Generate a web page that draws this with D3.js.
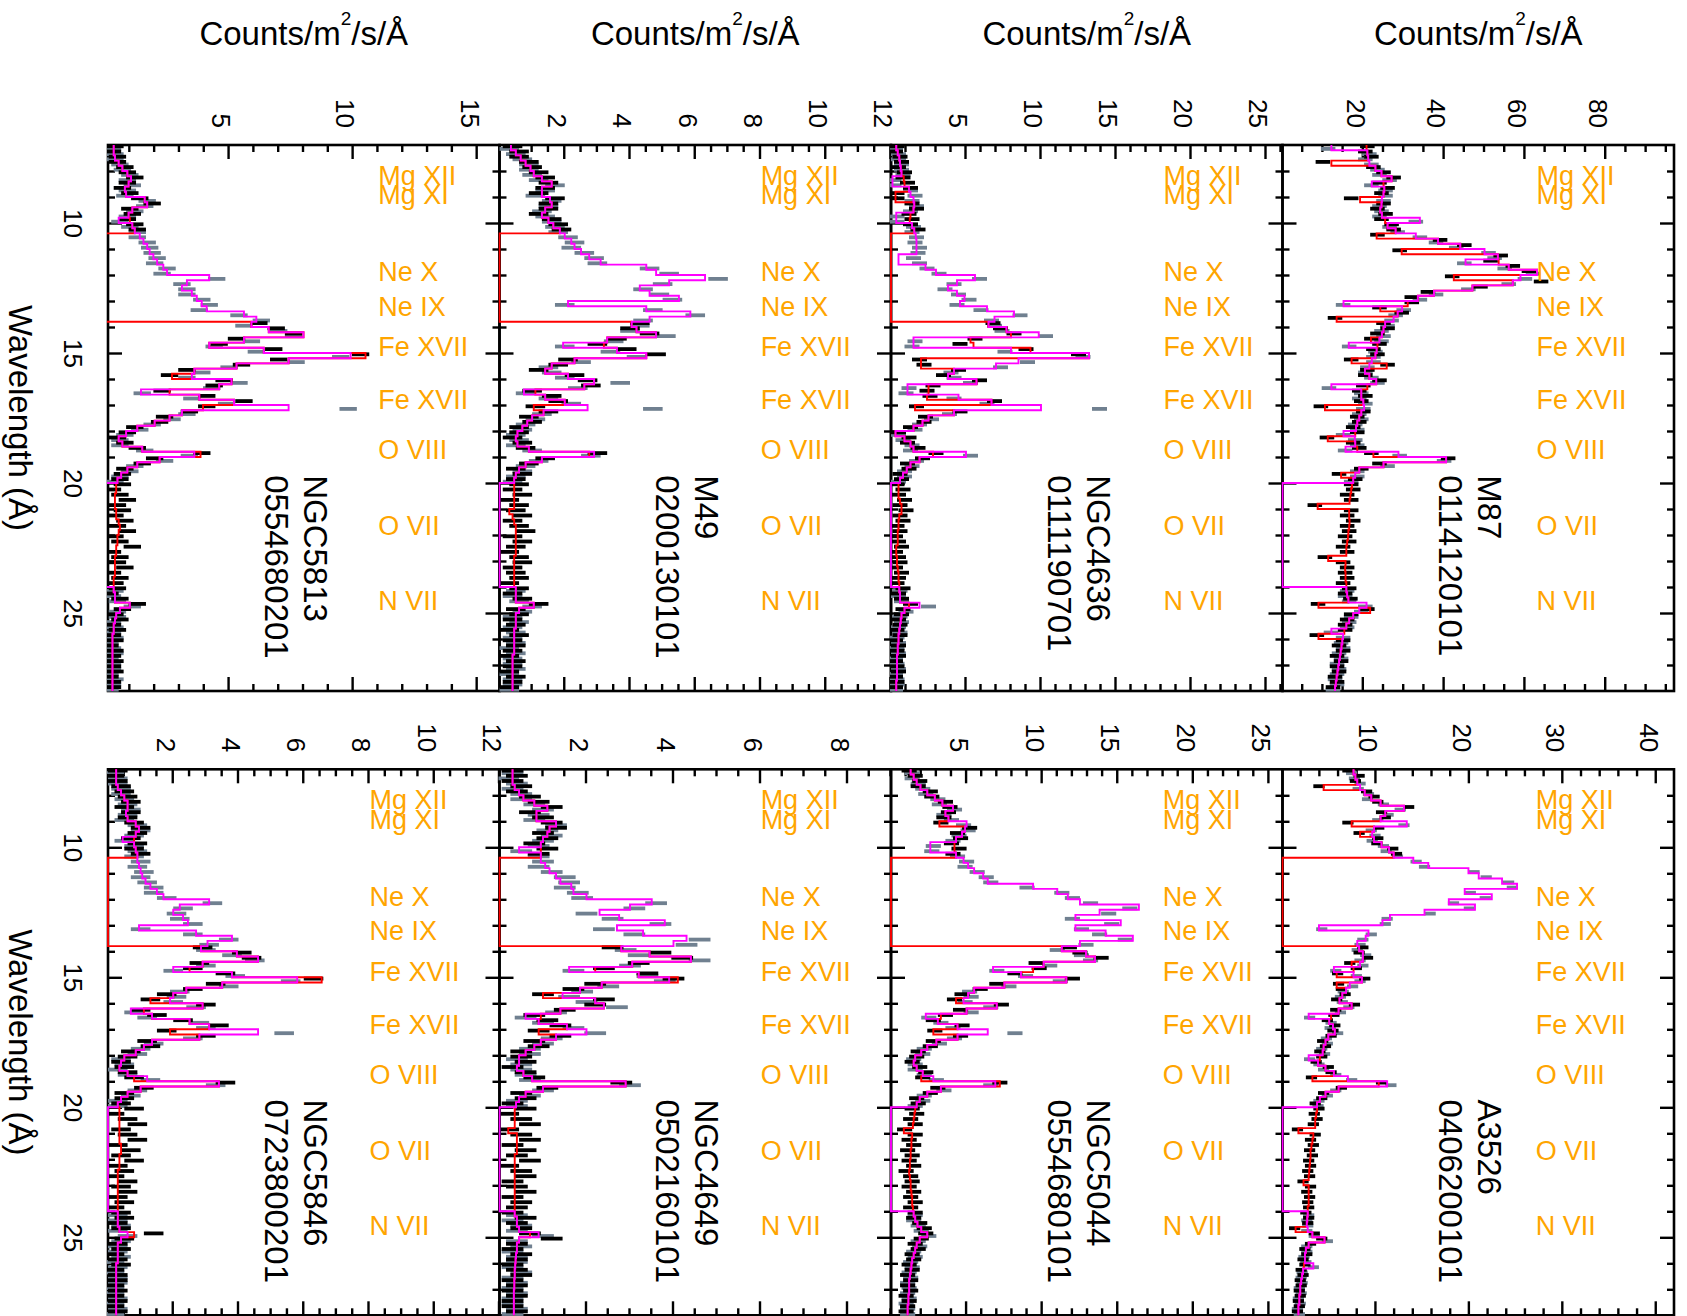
<!DOCTYPE html>
<html>
<head>
<meta charset="utf-8">
<script src="https://cdn.jsdelivr.net/npm/d3@7"></script>
<style>
  body { margin: 0; background: #fff; }
</style>
</head>
<body>
<div id="chart"></div>
<script>
// bin centres (Angstrom), 0.2 A bins from 7 to 28
const wave = [
  7.1, 7.3, 7.5, 7.7, 7.9, 8.1, 8.3, 8.5, 8.7, 8.9,
  9.1, 9.3, 9.5, 9.7, 9.9, 10.1, 10.3, 10.5, 10.7, 10.9,
  11.1, 11.3, 11.5, 11.7, 11.9, 12.1, 12.3, 12.5, 12.7, 12.9,
  13.1, 13.3, 13.5, 13.7, 13.9, 14.1, 14.3, 14.5, 14.7, 14.9,
  15.1, 15.3, 15.5, 15.7, 15.9, 16.1, 16.3, 16.5, 16.7, 16.9,
  17.1, 17.3, 17.5, 17.7, 17.9, 18.1, 18.3, 18.5, 18.7, 18.9,
  19.1, 19.3, 19.5, 19.7, 19.9, 20.1, 20.3, 20.5, 20.7, 20.9,
  21.1, 21.3, 21.5, 21.7, 21.9, 22.1, 22.3, 22.5, 22.7, 22.9,
  23.1, 23.3, 23.5, 23.7, 23.9, 24.1, 24.3, 24.5, 24.7, 24.9,
  25.1, 25.3, 25.5, 25.7, 25.9, 26.1, 26.3, 26.5, 26.7, 26.9,
  27.1, 27.3, 27.5, 27.7, 27.9
];

const lineNames = ["Mg XII", "Mg XI", "Ne X", "Ne IX", "Fe XVII", "Fe XVII", "O VIII", "O VII", "N VII"];
const lineWaves = [8.42, 9.17, 12.13, 13.45, 15.01, 17.05, 18.97, 21.9, 24.78];

const waveMajor = [10, 15, 20, 25];
const waveMinor = [8, 9, 11, 12, 13, 14, 16, 17, 18, 19, 21, 22, 23, 24, 26, 27];

// chip gaps of the two spectrometers
const rgs1Gap = [10.4, 13.8];
const rgs2Gap = [20.0, 24.0];

// ---------- NGC5813 ----------
const ngc5813Model = [
  0.35, 0.35, 0.4, 0.55, 0.7, 0.9, 1.05, 0.95, 0.8, 0.85,
  1.6, 1.7, 1.1, 0.95, 1.0, 1.1, 1.2, 1.4, 1.55, 1.7,
  1.8, 1.95, 2.1, 2.35, 2.5, 4.2, 3.3, 3.1, 3.5, 3.7,
  3.9, 4.1, 5.6, 6.1, 5.9, 6.6, 8.0, 5.6, 4.2, 6.4,
  9.9, 7.4, 5.3, 3.6, 3.5, 5.1, 4.6, 2.6, 3.8, 5.2,
  7.4, 3.1, 2.6, 2.0, 1.3, 0.85, 0.55, 0.7, 1.5, 3.6,
  2.2, 1.3, 0.9, 0.65, 0.5, 0.45, 0.45, 0.4, 0.4, 0.4,
  0.45, 0.45, 0.55, 0.6, 0.55, 0.5, 0.5, 0.45, 0.45, 0.4,
  0.4, 0.4, 0.4, 0.35, 0.35, 0.35, 0.4, 0.4, 1.0, 0.6,
  0.45, 0.4, 0.35, 0.35, 0.3, 0.3, 0.3, 0.3, 0.3, 0.3,
  0.3, 0.3, 0.3, 0.3, 0.3
];
const ngc5813Dips1 = [[15.1, 10.5], [15.9, 2.7], [17.1, 3.95], [18.9, 3.85]];
const ngc5813Dips2 = [[9.9, 0.55], [16.5, 1.45]];
const ngc5813Rgs1 = [
  0.4, 0.3, 0.5, 0.5, 0.8, 0.9, 1.2, 0.9, 0.7, 1.0,
  1.4, 1.9, 1.0, 1.1, 0.9, 1.2, 1.3, null, null, null,
  null, null, null, null, null, null, null, null, null, null,
  null, null, null, null, 6.2, 6.9, 7.6, 5.3, 4.6, 6.8,
  10.3, 7.0, 5.5, 3.3, 2.6, 4.8, 4.4, 2.3, 4.1, 5.6,
  4.1, 3.4, 2.4, 2.2, 1.2, 0.9, 0.5, 0.8, 1.3, 3.9,
  2.0, 1.5, 0.8, 0.7, 0.6, 0.7, 0.3, 0.6, 0.9, 0.5,
  0.7, 0.4, 0.8, 0.5, 0.9, 0.4, 0.6, 1.1, 0.3, 0.6,
  0.5, 0.8, 0.3, 0.6, 0.4, 0.5, 0.2, 0.6, 1.3, 0.7,
  0.4, 0.6, 0.3, 0.5, 0.3, 0.4, 0.2, 0.4, 0.3, 0.4,
  0.3, 0.4, 0.2, 0.3, 0.3
];
const ngc5813Rgs2 = [
  0.3, 0.4, 0.4, 0.6, 0.7, 1.0, 0.9, 1.1, 0.9, 0.8,
  1.7, 1.6, 1.2, 0.9, 0.6, 1.0, 1.3, 1.3, 1.7, 1.8,
  1.9, 2.1, 2.0, 2.5, 2.3, 4.5, 3.1, 3.3, 3.3, 3.9,
  4.2, 3.8, 5.4, 6.3, 5.6, 7.0, 7.6, 5.9, 4.4, 6.1,
  9.5, 7.7, 5.0, 3.9, 3.3, 5.4, 4.3, 1.5, 3.5, 4.9,
  9.8, 3.3, 2.7, 1.9, 1.4, 0.8, 0.6, 0.6, 1.6, 3.4,
  2.4, 1.2, 1.0, 0.6, 0.4, null, null, null, null, null,
  null, null, null, null, null, null, null, null, null, null,
  null, null, null, null, null, 0.4, 0.3, 0.5, 1.1, 0.5,
  0.5, 0.3, 0.4, 0.3, 0.4, 0.2, 0.3, 0.4, 0.2, 0.3,
  0.3, 0.2, 0.4, 0.3, 0.2
];

// ---------- M49 ----------
const m49Model = [
  0.35, 0.5, 0.65, 0.8, 0.95, 1.05, 1.3, 1.6, 1.3, 1.3,
  1.55, 1.6, 1.4, 1.3, 1.5, 1.65, 1.85, 2.0, 2.2, 2.3,
  2.5, 2.75, 3.1, 4.5, 4.8, 6.3, 5.2, 4.3, 4.6, 5.5,
  2.1, 4.5, 5.85, 4.6, 4.05, 4.2, 4.8, 3.3, 3.2, 3.6,
  4.5, 2.3, 1.6, 1.4, 2.1, 2.9, 2.6, 1.1, 1.4, 2.0,
  2.7, 1.35, 1.0, 0.85, 0.7, 0.55, 0.5, 0.55, 0.9, 2.9,
  1.3, 0.8, 0.6, 0.5, 0.45, 0.45, 0.45, 0.45, 0.45, 0.45,
  0.3, 0.4, 0.45, 0.5, 0.5, 0.5, 0.5, 0.5, 0.5, 0.45,
  0.45, 0.45, 0.45, 0.45, 0.45, 0.5, 0.5, 0.5, 1.05, 0.6,
  0.5, 0.5, 0.5, 0.45, 0.45, 0.45, 0.45, 0.45, 0.4, 0.4,
  0.4, 0.4, 0.4, 0.4, 0.4
];
const m49Dips1 = [[17.1, 1.05], [18.9, 2.75]];
const m49Dips2 = [[14.7, 1.95], [16.5, 0.75]];
const m49Rgs1 = [
  0.4, 0.6, 0.6, 0.9, 1.0, 1.2, 1.4, 1.5, 1.4, 1.2,
  1.7, 1.5, 1.5, 1.2, 1.6, 1.8, 1.9, null, null, null,
  null, null, null, null, null, null, null, null, null, null,
  null, null, null, null, 4.3, 4.0, 4.6, 3.6, 3.0, 3.9,
  4.8, 2.1, 1.8, 1.2, 2.3, 2.7, 2.8, 1.0, 1.6, 1.8,
  1.1, 1.5, 0.9, 1.0, 0.6, 0.6, 0.4, 0.7, 0.8, 3.0,
  1.4, 0.9, 0.5, 0.7, 0.5, 0.6, 0.4, 0.7, 0.3, 0.6,
  0.5, 0.7, 0.4, 0.6, 0.8, 0.4, 0.7, 0.5, 0.3, 0.6,
  0.7, 0.4, 0.5, 0.6, 0.3, 0.6, 0.4, 0.7, 1.2, 0.5,
  0.6, 0.4, 0.5, 0.3, 0.6, 0.4, 0.5, 0.4, 0.3, 0.5,
  0.4, 0.3, 0.5, 0.4, 0.3
];
const m49Rgs2 = [
  0.3, 0.5, 0.7, 0.9, 0.9, 1.0, 1.2, 1.7, 1.4, 1.1,
  1.6, 1.5, 1.3, 1.4, 1.6, 1.7, 1.8, 2.1, 2.3, 2.2,
  2.6, 2.9, 3.0, 4.6, 5.2, 6.7, 5.0, 4.4, 4.9, 5.3,
  2.0, 4.7, 6.0, 4.4, 4.3, 4.0, 5.1, 3.5, 2.0, 3.4,
  4.2, 2.5, 1.5, 1.6, 2.0, 3.7, 2.4, 0.8, 1.5, 2.2,
  4.7, 1.3, 1.1, 0.8, 0.7, 0.5, 0.6, 0.5, 1.0, 2.8,
  1.2, 0.8, 0.7, 0.5, 0.4, null, null, null, null, null,
  null, null, null, null, null, null, null, null, null, null,
  null, null, null, null, null, 0.5, 0.4, 0.6, 1.0, 0.7,
  0.4, 0.6, 0.4, 0.5, 0.4, 0.5, 0.3, 0.5, 0.4, 0.4,
  0.5, 0.3, 0.4, 0.4, 0.3
];

// ---------- NGC4636 ----------
const ngc4636Model = [
  0.35, 0.45, 0.55, 0.6, 0.65, 0.7, 0.85, 0.9, 1.2, 1.3,
  1.5, 1.55, 1.5, 1.3, 1.25, 1.4, 1.55, 1.65, 1.7, 1.7,
  1.7, 0.5, 0.5, 2.3, 3.0, 5.6, 4.4, 3.8, 4.4, 4.9,
  4.6, 6.4, 8.2, 6.9, 6.5, 7.7, 9.85, 5.3, 5.5, 8.0,
  13.2, 8.5, 7.0, 4.2, 3.8, 5.7, 2.5, 2.5, 4.5, 6.7,
  10.0, 4.2, 2.5, 2.1, 1.5, 0.3, 0.9, 1.3, 1.5, 5.0,
  1.9, 1.3, 1.05, 0.8, 0.6, 0.5, 0.5, 0.5, 0.6, 0.7,
  0.7, 0.55, 0.5, 0.5, 0.45, 0.45, 0.45, 0.35, 0.35, 0.4,
  0.4, 0.45, 0.5, 0.5, 0.55, 0.55, 0.6, 0.6, 1.9, 0.9,
  0.7, 0.65, 0.6, 0.55, 0.5, 0.5, 0.45, 0.45, 0.4, 0.4,
  0.4, 0.4, 0.4, 0.35, 0.35
];
const ngc4636Dips1 = [[8.9, 0.3], [9.1, 0.3], [14.3, 8.0], [14.9, 9.3], [15.3, 2.0], [15.5, 2.0],
  [16.7, 2.4], [17.1, 1.6], [18.9, 2.8], [24.7, 1.2]];
const ngc4636Dips2 = [[8.3, 0.1], [8.5, 0.1], [9.7, 0.35], [9.9, 0.35], [14.5, 1.5], [14.7, 1.5],
  [16.3, 1.1], [16.5, 1.1]];
const ngc4636Rgs1 = [
  0.4, 0.3, 0.6, 0.7, 0.5, 0.9, 0.8, 1.1, 1.3, 0.4,
  0.4, 1.4, 1.7, 1.2, 1.4, 1.3, 1.8, null, null, null,
  null, null, null, null, null, null, null, null, null, null,
  null, null, null, null, 6.8, 7.3, 8.2, 5.6, 4.6, 9.0,
  12.5, 1.9, 2.2, 4.5, 3.5, 5.9, 2.8, 2.4, 2.6, 6.9,
  1.7, 4.6, 2.3, 2.2, 1.3, 0.5, 1.2, 1.1, 1.8, 3.0,
  2.1, 1.1, 1.2, 0.6, 0.7, 0.4, 0.8, 0.5, 0.9, 0.6,
  1.0, 0.6, 0.8, 0.4, 0.6, 0.3, 0.5, 0.7, 0.3, 0.5,
  0.6, 0.3, 0.7, 0.5, 0.4, 0.8, 0.5, 0.7, 1.3, 0.8,
  0.7, 0.5, 0.6, 0.4, 0.6, 0.3, 0.5, 0.4, 0.5, 0.3,
  0.4, 0.5, 0.3, 0.4, 0.3
];
const ngc4636Rgs2 = [
  0.3, 0.5, 0.5, 0.7, 0.7, 0.8, 0.2, 0.2, 1.3, 1.6,
  1.4, 1.7, 1.3, 0.4, 0.4, 1.5, 1.4, 1.7, 1.6, 1.9,
  1.8, 1.5, 1.9, 2.4, 3.2, 5.9, 4.2, 3.6, 4.5, 5.2,
  4.4, 6.0, 8.6, 6.7, 6.9, 7.4, 10.3, 1.6, 1.4, 7.6,
  12.8, 9.1, 7.3, 4.0, 4.2, 5.3, 1.2, 1.0, 4.2, 6.4,
  13.9, 3.9, 2.7, 1.9, 1.6, 0.5, 0.8, 1.4, 1.3, 5.3,
  1.7, 1.4, 0.9, 0.9, 0.5, null, null, null, null, null,
  null, null, null, null, null, null, null, null, null, null,
  null, null, null, null, null, 0.6, 0.5, 0.7, 2.5, 1.0,
  0.6, 0.7, 0.5, 0.6, 0.4, 0.5, 0.4, 0.5, 0.3, 0.4,
  0.5, 0.3, 0.4, 0.4, 0.3
];

// ---------- M87 ----------
const m87Model = [
  20.8, 21, 21.2, 21.5, 23, 24.5, 27, 25, 25.2, 25,
  24.6, 24.5, 24.2, 24.6, 25.4, 26, 28, 33, 38.5, 44,
  50, 53.3, 53.5, 56, 63, 58.9, 57, 47, 37.5, 33.5,
  31, 29.6, 28.5, 27.5, 25.4, 25, 24.6, 24, 23.5, 23.3,
  23, 22.1, 21.5, 20.4, 21.5, 23.2, 21, 19.5, 19.5, 20,
  20.2, 19.5, 19, 18.5, 18.2, 18, 17.9, 18, 18.5, 28.7,
  40.5, 25, 19, 18, 17.5, 17.2, 17, 16.8, 16.6, 16.4,
  16.5, 16.5, 16.6, 16.5, 16.3, 16.2, 16.0, 15.8, 15.8, 15.8,
  15.6, 15.5, 15.6, 15.6, 15.8, 15.8, 16.0, 16.3, 20.8, 19.0,
  17.5, 16.5, 15.8, 15.3, 15.0, 14.8, 14.6, 14.4, 14.2, 14.0,
  13.8, 13.6, 13.4, 13.2, 13.0
];
const m87Dips1 = [[7.7, 12.1], [9.1, 19.2], [10.5, 23.3], [11.1, 29.5], [12.1, 42.4], [13.3, 24.2],
  [13.7, 13.4], [14.5, 21.9], [15.3, 17.1], [15.5, 25.8], [17.1, 10.5], [18.3, 11.2], [18.9, 22.5],
  [19.7, 14.5], [20.9, 8.7], [22.9, 11.3], [24.7, 8.9], [24.9, 21.7], [25.9, 8.9]];
const m87Dips2 = [[7.1, 12.1], [8.5, 22.1], [9.9, 34], [11.5, 45.3], [13.1, 15.1], [14.7, 16.4],
  [16.3, 12.1], [18.1, 15.1], [18.7, 15.6], [25.7, 12.1]];
const m87Rgs1 = [
  21, 20.5, 22, 10, 22.5, 25, 27.5, 24, 26, 24.5,
  17, 25, 23.5, 25.5, 24.5, 27, 27.5, 23.5, 39, 45,
  29, 54, 51.5, 57, 61, 42, 64, 49, 36, 32,
  32, 24, 29.5, 13, 25, 26, 23.5, 22, 24, 22.5,
  23.5, 17, 26, 21, 20.5, 24, 20, 19, 20.5, 19.5,
  9.5, 20, 18.5, 19, 17.5, 18.5, 11, 17.5, 19, 22,
  41, 24, 19.5, 14, 18, 17, 17.5, 16, 17, 8,
  17, 16, 17.5, 16, 16.5, 15.5, 16.5, 15, 16, 10.5,
  15, 16, 15.5, 16, 15, 16.5, 15.5, 16.8, 8.8, 21,
  17, 16, 15.5, 15.5, 8.5, 15, 14, 15, 13.5, 14.5,
  13.5, 14, 13, 13.5, 12.5
];
const m87Rgs2 = [
  11.3, 21.5, 20.5, 22, 23.5, 24, 26.5, 22, 25.5, 25.5,
  25, 24, 24.5, 24, 33, 26.5, 28.5, 34, 38, 43,
  51, 52.5, 45, 55, 62, 60, 56, 46, 38, 34,
  15, 30, 28, 27, 26, 24.5, 25, 24.5, 16.5, 23,
  22.5, 22.5, 21, 20.5, 22, 23.5, 11.5, 19.5, 19, 20.5,
  20, 19, 19.5, 18, 18.5, 15, 18, 18.5, 15.5, 29,
  40, 26, 18.5, 18.5, 17, null, null, null, null, null,
  null, null, null, null, null, null, null, null, null, null,
  null, null, null, null, null, 16, 15.5, 16.5, 20.5, 19.5,
  17, 16.5, 16, 12, 15, 14.5, 15, 14, 14.5, 13.5,
  14, 13.5, 13, 13.5, 12.5
];

// ---------- NGC5846 ----------
const ngc5846Model = [
  0.25, 0.25, 0.25, 0.3, 0.4, 0.5, 0.6, 0.6, 0.55, 0.6,
  0.85, 0.95, 0.85, 0.8, 0.8, 0.85, 0.9, 0.9, 0.95, 1.0,
  1.05, 1.15, 1.3, 1.5, 1.7, 3.1, 2.2, 2.0, 2.3, 2.45,
  0.95, 2.7, 3.8, 3.05, 2.85, 3.95, 4.6, 2.9, 2.5, 3.8,
  5.8, 3.5, 2.4, 2.0, 1.9, 2.9, 1.1, 1.35, 2.5, 3.1,
  4.6, 2.8, 1.35, 1.1, 0.85, 0.5, 0.4, 0.35, 0.6, 1.2,
  3.4, 1.0, 0.6, 0.4, 0.3, 0.35, 0.35, 0.35, 0.35, 0.35,
  0.35, 0.35, 0.4, 0.4, 0.35, 0.35, 0.35, 0.3, 0.3, 0.3,
  0.3, 0.3, 0.3, 0.3, 0.3, 0.3, 0.3, 0.3, 0.35, 0.6,
  0.4, 0.3, 0.3, 0.3, 0.3, 0.25, 0.25, 0.25, 0.25, 0.25,
  0.25, 0.25, 0.25, 0.25, 0.25
];
const ngc5846Dips1 = [[15.1, 6.55], [15.9, 1.3], [17.1, 1.9], [18.9, 0.8], [24.9, 0.8]];
const ngc5846Dips2 = [[9.7, 0.45], [14.7, 2.0], [16.3, 0.7]];
const ngc5846Rgs1 = [
  0.3, 0.2, 0.3, 0.4, 0.5, 0.6, 0.7, 0.5, 0.7, 0.6,
  0.8, 1.0, 0.9, 0.7, 0.9, 0.8, 1.0, null, null, null,
  null, null, null, null, null, null, null, null, null, null,
  null, null, null, null, 2.9, 4.1, 4.4, 2.8, 2.6, 3.6,
  6.3, 3.3, 2.6, 1.8, 1.3, 3.0, 1.0, 1.5, 2.3, 3.4,
  1.8, 3.0, 1.2, 1.3, 0.7, 0.6, 0.4, 0.5, 0.6, 0.8,
  3.6, 1.1, 0.5, 0.5, 0.4, 0.8, 0.2, 0.6, 0.9, 0.4,
  0.6, 0.9, 0.3, 0.7, 0.4, 0.8, 0.3, 0.5, 0.2, 0.6,
  0.4, 0.6, 0.3, 0.5, 0.2, 0.4, 0.5, 0.3, 0.4, 1.4,
  0.5, 0.3, 0.4, 0.2, 0.3, 0.4, 0.2, 0.3, 0.3, 0.2,
  0.3, 0.2, 0.3, 0.2, 0.3
];
const ngc5846Rgs2 = [
  0.2, 0.3, 0.3, 0.4, 0.4, 0.5, 0.6, 0.7, 0.6, 0.5,
  0.9, 1.0, 0.8, 0.5, 0.8, 0.9, 0.8, 1.0, 0.9, 1.1,
  1.0, 1.2, 1.4, 1.4, 1.8, 3.2, 2.3, 2.1, 2.2, 2.6,
  1.0, 2.6, 3.7, 3.1, 3.0, 3.8, 4.5, 3.0, 2.0, 3.9,
  5.6, 3.7, 2.2, 2.1, 2.0, 2.7, 0.8, 1.2, 2.8, 3.0,
  5.4, 2.6, 1.4, 1.0, 0.9, 0.4, 0.5, 0.3, 0.6, 1.3,
  3.3, 0.9, 0.7, 0.3, 0.3, null, null, null, null, null,
  null, null, null, null, null, null, null, null, null, null,
  null, null, null, null, null, 0.3, 0.3, 0.4, 0.3, 0.6,
  0.4, 0.3, 0.3, 0.4, 0.2, 0.3, 0.2, 0.3, 0.3, 0.2,
  0.2, 0.3, 0.2, 0.3, 0.2
];

// ---------- NGC4649 ----------
const ngc4649Model = [
  0.3, 0.3, 0.3, 0.35, 0.45, 0.55, 0.8, 1.1, 0.85, 0.85,
  1.3, 1.15, 1.1, 1.0, 0.95, 0.95, 0.95, 0.95, 1.05, 1.15,
  1.3, 1.4, 1.65, 1.7, 2.0, 3.5, 3.0, 2.3, 2.75, 3.8,
  2.7, 3.3, 4.3, 4.0, 2.8, 3.45, 4.4, 3.05, 2.2, 3.2,
  3.9, 2.35, 1.85, 1.45, 2.2, 2.4, 1.4, 0.95, 0.9, 1.55,
  2.0, 1.3, 0.95, 0.8, 0.6, 0.45, 0.45, 0.4, 0.55, 0.75,
  2.9, 1.0, 0.6, 0.45, 0.38, 0.35, 0.35, 0.35, 0.35, 0.35,
  0.4, 0.4, 0.4, 0.4, 0.35, 0.35, 0.35, 0.35, 0.35, 0.35,
  0.35, 0.35, 0.35, 0.35, 0.35, 0.35, 0.4, 0.4, 0.45, 0.9,
  0.45, 0.4, 0.4, 0.38, 0.37, 0.36, 0.35, 0.35, 0.34, 0.34,
  0.33, 0.33, 0.33, 0.33, 0.33
];
const ngc4649Dips1 = [[15.1, 4.1], [15.7, 1.0], [17.1, 0.9], [20.9, 0.2], [24.9, 0.7]];
const ngc4649Dips2 = [[10.1, 0.45], [14.7, 1.6], [16.5, 0.6]];
const ngc4649Rgs1 = [
  0.3, 0.4, 0.3, 0.5, 0.4, 0.7, 0.9, 1.2, 0.7, 1.0,
  1.2, 1.3, 1.0, 1.1, 0.8, 1.1, 0.9, null, null, null,
  null, null, null, null, null, null, null, null, null, null,
  null, null, null, null, 2.6, 3.7, 4.2, 3.2, 2.4, 3.4,
  4.0, 2.2, 1.7, 1.0, 2.4, 2.2, 1.5, 0.8, 1.1, 1.4,
  0.9, 1.4, 0.8, 0.9, 0.5, 0.5, 0.6, 0.3, 0.6, 0.8,
  2.8, 1.1, 0.5, 0.6, 0.3, 0.6, 0.2, 0.5, 0.7, 0.2,
  0.5, 0.7, 0.3, 0.6, 0.4, 0.7, 0.2, 0.5, 0.6, 0.3,
  0.4, 0.6, 0.3, 0.5, 0.4, 0.3, 0.6, 0.4, 0.5, 0.7,
  1.2, 0.4, 0.3, 0.5, 0.4, 0.3, 0.4, 0.5, 0.3, 0.4,
  0.3, 0.4, 0.3, 0.3, 0.4
];
const ngc4649Rgs2 = [
  0.3, 0.2, 0.4, 0.3, 0.5, 0.5, 0.8, 1.0, 0.9, 0.8,
  1.3, 1.1, 1.2, 1.0, 0.9, 0.5, 0.9, 1.0, 0.9, 1.2,
  1.5, 1.6, 1.5, 1.8, 1.9, 3.6, 3.1, 2.0, 2.6, 3.7,
  2.4, 3.1, 4.6, 4.3, 2.9, 3.2, 4.6, 3.0, 1.7, 3.4,
  3.8, 2.5, 1.9, 1.6, 2.0, 2.7, 1.3, 0.6, 1.0, 1.7,
  2.2, 1.2, 1.0, 0.7, 0.7, 0.4, 0.5, 0.5, 0.6, 0.7,
  3.0, 1.0, 0.7, 0.4, 0.4, null, null, null, null, null,
  null, null, null, null, null, null, null, null, null, null,
  null, null, null, null, null, 0.4, 0.3, 0.5, 0.4, 1.0,
  0.4, 0.5, 0.3, 0.4, 0.4, 0.3, 0.5, 0.3, 0.4, 0.3,
  0.4, 0.3, 0.3, 0.4, 0.3
];

// ---------- NGC5044 ----------
const ngc5044Model = [
  1.3, 1.5, 1.7, 1.95, 2.4, 2.9, 3.4, 4.1, 3.6, 3.8,
  5.0, 4.9, 4.7, 4.3, 4.2, 4.2, 4.3, 4.8, 5.1, 5.5,
  6.1, 6.4, 9.4, 11.0, 11.7, 12.5, 16.4, 13.8, 12.2, 15.2,
  12.2, 14.2, 16.0, 12.5, 11.3, 12.9, 13.5, 10.1, 9.4, 8.6,
  11.6, 7.5, 5.5, 5.1, 4.8, 7.0, 5.0, 3.3, 3.1, 4.4,
  6.4, 4.4, 3.0, 2.4, 2.0, 1.6, 1.5, 1.7, 2.1, 2.8,
  6.9, 3.3, 2.4, 1.9, 1.7, 1.6, 1.55, 1.5, 1.45, 1.4,
  1.4, 1.35, 1.35, 1.3, 1.3, 1.25, 1.25, 1.2, 1.25, 1.3,
  1.3, 1.35, 1.4, 1.4, 1.45, 1.5, 1.6, 1.75, 2.0, 2.4,
  1.9, 1.7, 1.6, 1.5, 1.4, 1.35, 1.3, 1.25, 1.2, 1.2,
  1.2, 1.15, 1.15, 1.1, 1.1
];
const ngc5044Dips1 = [[9.1, 3.2], [15.9, 4.3], [17.1, 2.8], [18.9, 2.0], [19.1, 7.2], [20.9, 0.85]];
const ngc5044Dips2 = [[9.9, 2.6], [10.1, 2.6], [14.7, 6.75], [16.5, 2.3]];
const ngc5044Rgs1 = [
  1.2, 1.6, 1.9, 1.8, 2.6, 2.7, 3.6, 3.9, 3.8, 3.5,
  3.3, 5.2, 4.4, 4.6, 4.0, 4.5, 4.1, null, null, null,
  null, null, null, null, null, null, null, null, null, null,
  null, null, null, null, 11.8, 12.5, 13.9, 9.6, 9.8, 8.2,
  12.0, 7.0, 5.9, 4.7, 4.2, 7.3, 4.6, 3.6, 2.8, 4.7,
  2.9, 4.6, 2.8, 2.6, 1.8, 1.7, 1.4, 1.9, 2.3, 2.1,
  7.2, 3.1, 2.6, 1.7, 1.8, 1.4, 1.7, 1.3, 1.6, 0.9,
  1.6, 1.2, 1.5, 1.1, 1.4, 1.2, 1.5, 1.0, 1.3, 1.4,
  1.2, 1.5, 1.3, 1.6, 1.3, 1.6, 1.5, 1.9, 2.2, 2.3,
  2.0, 1.6, 1.8, 1.4, 1.5, 1.2, 1.4, 1.1, 1.3, 1.1,
  1.3, 1.0, 1.2, 1.1, 1.0
];
const ngc5044Rgs2 = [
  1.4, 1.4, 1.8, 2.1, 2.3, 3.1, 3.2, 4.2, 3.5, 4.0,
  4.8, 5.1, 4.5, 4.1, 2.8, 2.7, 4.4, 5.0, 4.9, 5.7,
  6.3, 6.6, 9.0, 11.3, 12.0, 13.2, 15.8, 14.4, 12.0, 14.6,
  12.6, 13.8, 15.5, 12.9, 11.0, 12.6, 13.2, 10.5, 7.0, 8.9,
  11.2, 7.8, 5.2, 5.3, 4.9, 6.6, 5.3, 2.5, 3.3, 4.1,
  8.2, 4.2, 3.2, 2.2, 2.1, 1.5, 1.6, 1.6, 2.2, 3.0,
  6.6, 3.5, 2.2, 2.1, 1.6, null, null, null, null, null,
  null, null, null, null, null, null, null, null, null, null,
  null, null, null, null, null, 1.6, 1.5, 1.8, 2.0, 2.5,
  1.8, 1.9, 1.5, 1.6, 1.3, 1.4, 1.2, 1.3, 1.1, 1.2,
  1.1, 1.2, 1.0, 1.1, 1.1
];

// ---------- A3526 ----------
const a3526Model = [
  7.6, 7.8, 8.0, 8.3, 8.8, 9.5, 10.5, 13.0, 11.0, 10.5,
  10.0, 9.8, 9.6, 9.8, 10.6, 11.4, 11.9, 14.0, 15.6, 19.9,
  21, 23.5, 25.1, 19.5, 22.4, 17.8, 20.6, 15.2, 11.5, 10.7,
  3.9, 9.2, 8.9, 8.0, 8.2, 8.6, 8.6, 8.3, 7.6, 7.6,
  8.5, 7.2, 6.8, 6.4, 6.1, 7.4, 6.0, 5.2, 5.0, 5.4,
  5.6, 4.9, 4.6, 4.4, 4.3, 4.0, 3.8, 4.6, 5.5, 7.0,
  11.2, 6.0, 4.6, 4.0, 3.7, 3.7, 3.6, 3.5, 3.5, 3.4,
  3.3, 3.2, 3.1, 3.0, 3.0, 2.95, 2.9, 2.85, 2.8, 2.8,
  2.8, 2.8, 2.8, 2.8, 2.7, 2.7, 2.65, 2.6, 2.7, 3.2,
  4.5, 2.8, 2.5, 2.4, 2.4, 2.3, 2.2, 2.1, 2.0, 1.9,
  1.9, 1.8, 1.8, 1.7, 1.7
];
const a3526Dips1 = [[7.7, 4.4], [9.1, 7.4], [9.5, 8.3], [14.5, 7.4], [14.9, 5.8], [15.3, 5.8],
  [18.9, 3.2], [19.1, 10.3], [20.9, 1.7], [22.9, 2.25], [24.7, 1.4]];
const a3526Dips2 = [[9.1, 13.3], [14.7, 5.5], [16.5, 2.8], [18.1, 2.8], [26.1, 3.3]];
const a3526Rgs1 = [
  7.0, 8.2, 7.8, 3.9, 9.0, 9.8, 10.2, 13.5, 10.6, 11.0,
  7.0, 10.3, 8.2, 10.2, 10.1, 11.8, 12.2, null, null, null,
  null, null, null, null, null, null, null, null, null, null,
  null, null, null, null, 8.6, 8.2, 9.1, 7.2, 7.9, 5.9,
  8.8, 6.0, 6.3, 6.7, 5.8, 7.7, 5.7, 5.5, 4.8, 5.6,
  5.4, 5.2, 4.3, 4.6, 4.0, 4.2, 3.6, 4.9, 5.2, 3.1,
  10.6, 6.3, 4.4, 4.2, 3.5, 3.9, 3.4, 3.7, 3.3, 1.6,
  3.5, 3.0, 3.3, 2.9, 3.2, 2.8, 3.0, 2.7, 2.9, 2.2,
  3.0, 2.6, 2.9, 2.7, 2.8, 2.5, 2.8, 2.7, 1.3, 3.4,
  4.2, 3.0, 2.4, 2.6, 2.2, 2.4, 2.0, 2.2, 1.9, 2.0,
  1.8, 1.9, 1.7, 1.8, 1.6
];
const a3526Rgs2 = [
  7.4, 7.7, 8.3, 8.1, 9.2, 9.1, 10.8, 12.6, 11.3, 10.2,
  13.0, 9.5, 9.9, 9.6, 10.8, 11.1, 12.3, 14.3, 15.2, 20.5,
  21.8, 24.2, 24.6, 20.1, 21.7, 18.3, 20.0, 15.8, 11.2, 11.0,
  4.2, 9.5, 8.6, 8.3, 8.0, 8.9, 8.3, 8.6, 5.7, 7.9,
  8.3, 7.5, 6.5, 6.2, 6.4, 7.1, 6.2, 2.9, 5.2, 5.1,
  5.9, 4.7, 4.8, 4.2, 4.5, 2.9, 3.9, 4.4, 5.7, 7.4,
  11.6, 5.7, 4.8, 3.9, 3.8, null, null, null, null, null,
  null, null, null, null, null, null, null, null, null, null,
  null, null, null, null, null, 2.8, 2.6, 2.7, 2.6, 3.4,
  4.8, 2.6, 2.6, 2.3, 2.5, 3.3, 2.1, 2.0, 2.1, 1.8,
  2.0, 1.7, 1.9, 1.6, 1.8
];

// per panel, in screen order: top row left to right, then bottom row
const names = ["NGC5813", "M49", "NGC4636", "M87", "NGC5846", "NGC4649", "NGC5044", "A3526"];
const obsids = ["0554680201", "0200130101", "0111190701", "0114120101",
  "0723800201", "0502160101", "0554680101", "0406200101"];
const countRanges = [[0.12, 15.9], [0, 12], [0, 26.1], [0, 96.9], [0, 12], [0, 9], [0, 25.9], [0, 41.9]];
const countMajor = [[5, 10, 15], [2, 4, 6, 8, 10, 12], [5, 10, 15, 20, 25], [20, 40, 60, 80],
  [2, 4, 6, 8, 10, 12], [2, 4, 6, 8], [5, 10, 15, 20, 25], [10, 20, 30, 40]];
const countMinorStep = [1, 0.5, 1, 5, 0.5, 0.5, 1, 2];
const errHalf = [0.35, 0.3, 0.5, 1.8, 0.3, 0.25, 0.5, 0.6];
const hasRgs1Gap = [true, true, true, false, true, true, true, true];

const panels = [
  {model: ngc5813Model, dips1: ngc5813Dips1, dips2: ngc5813Dips2, rgs1: ngc5813Rgs1, rgs2: ngc5813Rgs2},
  {model: m49Model, dips1: m49Dips1, dips2: m49Dips2, rgs1: m49Rgs1, rgs2: m49Rgs2},
  {model: ngc4636Model, dips1: ngc4636Dips1, dips2: ngc4636Dips2, rgs1: ngc4636Rgs1, rgs2: ngc4636Rgs2},
  {model: m87Model, dips1: m87Dips1, dips2: m87Dips2, rgs1: m87Rgs1, rgs2: m87Rgs2},
  {model: ngc5846Model, dips1: ngc5846Dips1, dips2: ngc5846Dips2, rgs1: ngc5846Rgs1, rgs2: ngc5846Rgs2},
  {model: ngc4649Model, dips1: ngc4649Dips1, dips2: ngc4649Dips2, rgs1: ngc4649Rgs1, rgs2: ngc4649Rgs2},
  {model: ngc5044Model, dips1: ngc5044Dips1, dips2: ngc5044Dips2, rgs1: ngc5044Rgs1, rgs2: ngc5044Rgs2},
  {model: a3526Model, dips1: a3526Dips1, dips2: a3526Dips2, rgs1: a3526Rgs1, rgs2: a3526Rgs2}
];

// ---------- layout ----------
const W = 1687, H = 1316;
const FONT = '"Liberation Sans", Arial, Helvetica, sans-serif';
const colX0 = 108, colW = 391.5;      // screen x of first column, column width
const rowY0 = [145, 769.3], rowH = 546; // screen y of each row, row height
const labelFrac = [0.69, 0.667, 0.696, 0.649, 0.668, 0.667, 0.694, 0.647];

const svg = d3.select("#chart").append("svg")
  .attr("width", W).attr("height", H)
  .style("background", "#fff");

// the plot is drawn the usual way (wavelength along x) and then turned a quarter turn
const root = svg.append("g").attr("transform", `translate(${W},0) rotate(90)`);

// fold the chip gaps and bad columns of one instrument into the model
function instrumentModel(model, dips, gap) {
  return wave.map((w, i) => {
    if (gap && w > gap[0] && w < gap[1]) return 0;
    const d = dips.find(p => Math.abs(p[0] - w) < 0.01);
    return d ? d[1] : model[i];
  });
}

function styleAxis(a, width) {
  a.select(".domain").remove();
  a.attr("font-family", FONT).attr("font-size", 26);
  a.selectAll("line").attr("stroke", "#000").attr("stroke-width", width);
}

panels.forEach((p, k) => {
  const r = k < 4 ? 0 : 1, c = k % 4;
  const ox0 = rowY0[r], ox1 = ox0 + rowH;
  const oy1 = W - (colX0 + colW * c), oy0 = oy1 - colW;
  const [lo, hi] = countRanges[k];

  const x = d3.scaleLinear().domain([7, 28]).range([ox0, ox1]);
  const y = d3.scaleLinear().domain([lo, hi]).range([oy1, oy0]);

  const majors = countMajor[k];
  const step = countMinorStep[k];
  const minors = d3.range(Math.ceil(lo / step) * step, hi + 1e-9, step)
    .filter(v => v > lo + 1e-9 && !majors.some(m => Math.abs(m - v) < 1e-9));

  const g = root.append("g");

  g.append("clipPath").attr("id", "clip" + k)
    .append("rect").attr("x", ox0 - 1).attr("y", oy0 - 1)
    .attr("width", rowH + 2).attr("height", colW + 2);

  // wavelength axes (screen left and right of the panel)
  const wb = g.append("g").attr("transform", `translate(0,${oy1})`)
    .call(d3.axisBottom(x).tickValues(waveMajor).tickSize(-14).tickPadding(26)
      .tickFormat(c === 0 ? d3.format("d") : ""));
  styleAxis(wb, 2.4);
  styleAxis(g.append("g").attr("transform", `translate(0,${oy1})`)
    .call(d3.axisBottom(x).tickValues(waveMinor).tickSize(-7).tickFormat("")), 2.4);
  styleAxis(g.append("g").attr("transform", `translate(0,${oy0})`)
    .call(d3.axisTop(x).tickValues(waveMajor).tickSize(-14).tickFormat("")), 2.4);
  styleAxis(g.append("g").attr("transform", `translate(0,${oy0})`)
    .call(d3.axisTop(x).tickValues(waveMinor).tickSize(-7).tickFormat("")), 2.4);

  // count axes (screen top and bottom of the panel)
  const cl = g.append("g").attr("transform", `translate(${ox0},0)`)
    .call(d3.axisLeft(y).tickValues(majors).tickSize(-14).tickPadding(17).tickFormat(d3.format("d")));
  styleAxis(cl, 2.4);
  cl.selectAll("text").attr("dy", "0.62em");
  styleAxis(g.append("g").attr("transform", `translate(${ox0},0)`)
    .call(d3.axisLeft(y).tickValues(minors).tickSize(-7).tickFormat("")), 2.4);
  styleAxis(g.append("g").attr("transform", `translate(${ox1},0)`)
    .call(d3.axisRight(y).tickValues(majors).tickSize(-14).tickFormat("")), 2.4);
  styleAxis(g.append("g").attr("transform", `translate(${ox1},0)`)
    .call(d3.axisRight(y).tickValues(minors).tickSize(-7).tickFormat("")), 2.4);

  g.append("rect")
    .attr("x", ox0).attr("y", oy0).attr("width", rowH).attr("height", colW)
    .attr("fill", "none").attr("stroke", "#000").attr("stroke-width", 2.6);

  const plot = g.append("g").attr("clip-path", `url(#clip${k})`);
  const err = errHalf[k];

  // measured spectra as error bars
  const bars = (vals, shift, color) => plot.append("g").attr("fill", color)
    .selectAll("rect")
    .data(vals.map((v, i) => [wave[i], v]).filter(d => d[1] !== null))
    .join("rect")
    .attr("x", d => x(d[0] + shift) - 1.9)
    .attr("width", 3.8)
    .attr("y", d => y(d[1] + err))
    .attr("height", d => y(d[1] - err) - y(d[1] + err));

  bars(p.rgs2, 0.05, "#708090");
  bars(p.rgs1, -0.05, "#000000");

  // models as histograms
  const steps = vals => vals.flatMap((v, i) => [[wave[i] - 0.1, v], [wave[i] + 0.1, v]]);
  const line = d3.line().x(d => x(d[0])).y(d => y(d[1]));
  const red = instrumentModel(p.model, p.dips1, hasRgs1Gap[k] ? rgs1Gap : null);
  const magenta = instrumentModel(p.model, p.dips2, rgs2Gap);

  plot.append("path").attr("d", line(steps(red)))
    .attr("fill", "none").attr("stroke", "#ff0000").attr("stroke-width", 1.9);
  plot.append("path").attr("d", line(steps(magenta)))
    .attr("fill", "none").attr("stroke", "#ff00ff").attr("stroke-width", 1.9);

  // line identifications
  const labelY = oy1 - labelFrac[k] * colW;
  lineNames.forEach((nm, j) => {
    g.append("text")
      .attr("transform", `translate(${x(lineWaves[j]) + 3},${labelY}) rotate(-90)`)
      .attr("font-family", FONT).attr("font-size", 27).attr("fill", "#ffa500")
      .text(nm);
  });

  // object name and observation id
  g.append("text")
    .attr("x", x(19.7)).attr("y", oy1 - 0.5 * colW)
    .attr("font-family", FONT).attr("font-size", 33).attr("fill", "#000")
    .text(names[k]);
  g.append("text")
    .attr("x", x(19.7)).attr("y", oy1 - 0.4 * colW)
    .attr("font-family", FONT).attr("font-size", 33).attr("fill", "#000")
    .text(obsids[k]);

  if (r === 0) {
    const t = g.append("text")
      .attr("transform", `translate(45,${(oy0 + oy1) / 2}) rotate(-90)`)
      .attr("text-anchor", "middle")
      .attr("font-family", FONT).attr("font-size", 33).attr("fill", "#000");
    t.append("tspan").text("Counts/m");
    t.append("tspan").attr("font-size", 19).attr("dy", -20).text("2");
    t.append("tspan").attr("dy", 20).text("/s/Å");
  }

  if (c === 0) {
    g.append("text")
      .attr("x", (ox0 + ox1) / 2).attr("y", W - 9)
      .attr("text-anchor", "middle")
      .attr("font-family", FONT).attr("font-size", 33).attr("fill", "#000")
      .text("Wavelength (Å)");
  }
});
</script>
</body>
</html>
